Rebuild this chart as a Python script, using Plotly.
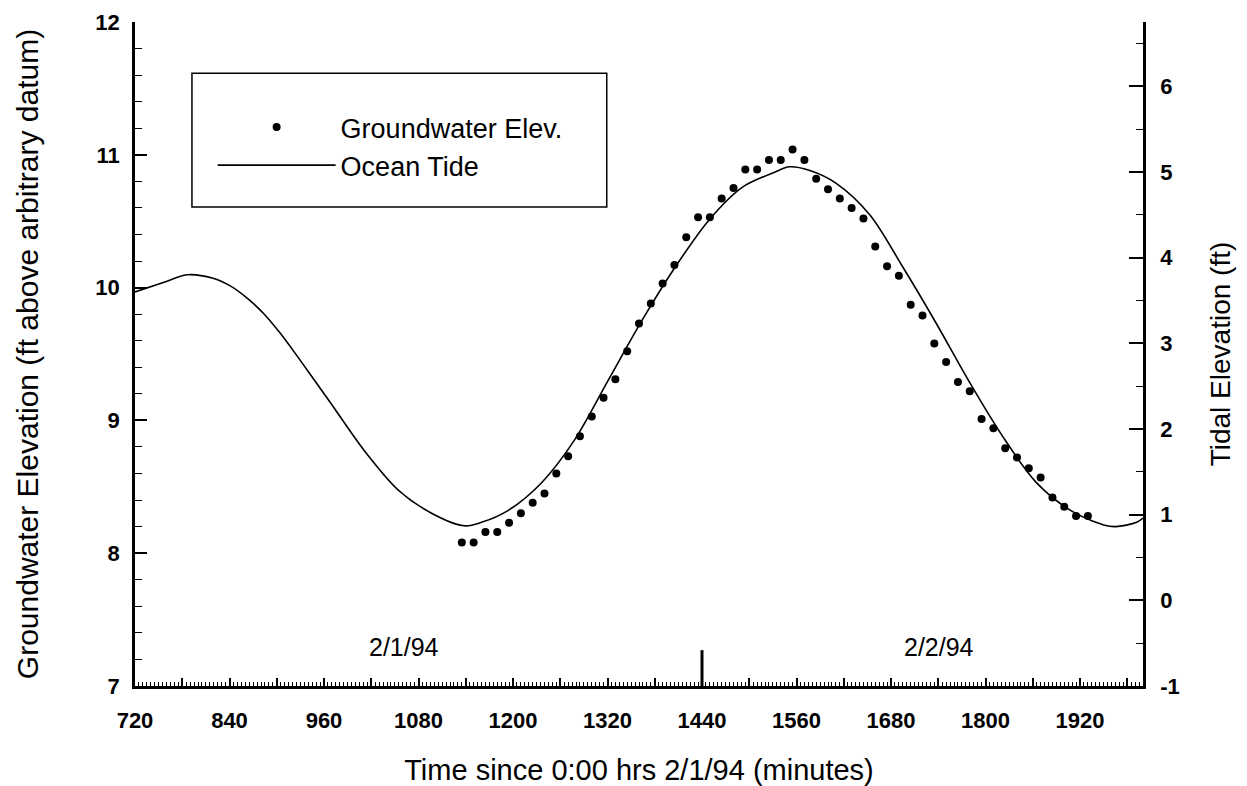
import plotly.graph_objects as go

# ---- data ----
tide_minutes = [720, 756, 786, 819, 841, 862, 883, 905, 926, 947, 968, 1011, 1054, 1096, 1138, 1160, 1194,
                1236, 1278, 1321, 1364, 1406, 1449, 1491, 1533, 1551, 1576, 1610, 1653, 1695,
                1737, 1780, 1822, 1864, 1908, 1950, 1965, 1992, 2000]
tide_ft = [3.60, 3.71, 3.80, 3.76, 3.67, 3.53, 3.35, 3.11, 2.85, 2.58, 2.31, 1.75, 1.29, 1.02, 0.87, 0.91, 1.05,
           1.37, 1.87, 2.57, 3.27, 3.89, 4.44, 4.82, 5.00, 5.06, 5.02, 4.87, 4.50, 3.89,
           3.24, 2.54, 1.91, 1.38, 1.05, 0.88, 0.86, 0.91, 0.96]

gw_minutes = [1135, 1150, 1165, 1180, 1195, 1210, 1225, 1240, 1255, 1270, 1285, 1300, 1315, 1330,
              1345, 1360, 1375, 1390, 1405, 1420, 1435, 1450, 1465, 1480, 1495, 1510, 1525, 1540,
              1555, 1570, 1585, 1600, 1615, 1630, 1645, 1660, 1675, 1690, 1705, 1720, 1735, 1750,
              1765, 1780, 1795, 1810, 1825, 1840, 1855, 1870, 1885, 1900, 1915, 1930]
gw_ft = [8.08, 8.08, 8.16, 8.16, 8.23, 8.30, 8.38, 8.45, 8.60, 8.73, 8.88, 9.03, 9.17, 9.31,
         9.52, 9.73, 9.88, 10.03, 10.17, 10.38, 10.53, 10.53, 10.67, 10.75, 10.89, 10.89, 10.96, 10.96,
         11.04, 10.96, 10.82, 10.74, 10.67, 10.60, 10.52, 10.31, 10.16, 10.09, 9.87, 9.79, 9.58, 9.44,
         9.29, 9.22, 9.01, 8.94, 8.79, 8.72, 8.64, 8.57, 8.42, 8.35, 8.28, 8.28]

x_tickvals = [720, 780, 840, 900, 960, 1020, 1080, 1140, 1200, 1260, 1320, 1380, 1440,
              1500, 1560, 1620, 1680, 1740, 1800, 1860, 1920, 1980]
x_ticktext = ["720", "", "840", "", "960", "", "1080", "", "1200", "", "1320", "", "1440",
              "", "1560", "", "1680", "", "1800", "", "1920", ""]
y_left_ticks = [7, 8, 9, 10, 11, 12]
y_right_ticks = [-1, 0, 1, 2, 3, 4, 5, 6]
y_right_text = ["-1", "0", "1", "2", "3", "4", "5", "6"]

date_labels = ["2/1/94", "2/2/94"]
date_label_x = [1062, 1741]
day_boundary = 1440

FONT = "Liberation Sans, Arial, sans-serif"
TICKFONT = dict(family=FONT, size=22, color="black", weight="bold")

fig = go.Figure()
fig.add_trace(go.Scatter(
    x=gw_minutes, y=gw_ft, mode="markers", name="Groundwater Elev.",
    marker=dict(color="black", size=8, symbol="circle"), yaxis="y"))
fig.add_trace(go.Scatter(
    x=tide_minutes, y=tide_ft, mode="lines", name="Ocean Tide",
    line=dict(color="black", width=1.6, shape="spline", smoothing=0.9), yaxis="y2"))

for lbl, xv in zip(date_labels, date_label_x):
    fig.add_annotation(x=xv, y=7.29, xref="x", yref="y", text=lbl, showarrow=False,
                       font=dict(family=FONT, size=25, color="black"))

fig.add_shape(type="line", x0=day_boundary, x1=day_boundary, y0=7, y1=7.27,
              xref="x", yref="y", line=dict(color="black", width=3))
# legend frame
fig.add_shape(type="rect", xref="paper", yref="paper", x0=0.0565, x1=0.468, y0=0.7214, y1=0.923,
              line=dict(color="black", width=1.5), fillcolor="rgba(0,0,0,0)")

fig.update_layout(
    width=1247, height=786,
    margin=dict(l=135, r=104, t=22, b=100),
    paper_bgcolor="white", plot_bgcolor="white",
    font=dict(family=FONT, color="black", size=20),
    showlegend=True,
    legend=dict(x=0.077, y=0.8125, xanchor="left", yanchor="middle",
                bgcolor="rgba(0,0,0,0)", borderwidth=0,
                font=dict(family=FONT, size=27, color="black"),
                itemwidth=118, tracegroupgap=0),
    xaxis=dict(range=[720, 2000], showline=True, linecolor="black", linewidth=2.5,
               tickmode="array", tickvals=x_tickvals, ticktext=x_ticktext,
               ticks="inside", ticklen=8, tickwidth=1.5, tickcolor="black",
               minor=dict(tick0=720, dtick=5, ticks="inside", ticklen=4, tickwidth=1, tickcolor="black"),
               showgrid=False, zeroline=False, ticklabelstandoff=13, automargin=False,
               tickfont=TICKFONT,
               title=dict(text="Time since 0:00 hrs 2/1/94 (minutes)", standoff=30,
                          font=dict(family=FONT, size=29, color="black"))),
    yaxis=dict(range=[7, 12], showline=True, linecolor="black", linewidth=2.5,
               tickmode="array", tickvals=y_left_ticks,
               ticks="inside", ticklen=12, tickwidth=1.5, tickcolor="black",
               minor=dict(tick0=7, dtick=0.2, ticks="inside", ticklen=7, tickwidth=1.2, tickcolor="black"),
               showgrid=False, zeroline=False, ticklabelstandoff=8, automargin=False,
               tickfont=TICKFONT,
               title=dict(text="Groundwater Elevation (ft above arbitrary datum)", standoff=48,
                          font=dict(family=FONT, size=30, color="black"))),
    yaxis2=dict(range=[-1, 6.75], overlaying="y", side="right", showline=True,
                linecolor="black", linewidth=2.5,
                tickmode="array", tickvals=y_right_ticks, ticktext=y_right_text,
                ticks="inside", ticklen=14, tickwidth=1.5, tickcolor="black",
                minor=dict(tick0=-1, dtick=0.5, ticks="inside", ticklen=7, tickwidth=1.2, tickcolor="black"),
                showgrid=False, zeroline=False, ticklabelstandoff=10, automargin=False,
                tickfont=TICKFONT,
                title=dict(text="Tidal Elevation (ft)", standoff=32,
                           font=dict(family=FONT, size=28, color="black"))),
)

fig.write_html("out.html")
